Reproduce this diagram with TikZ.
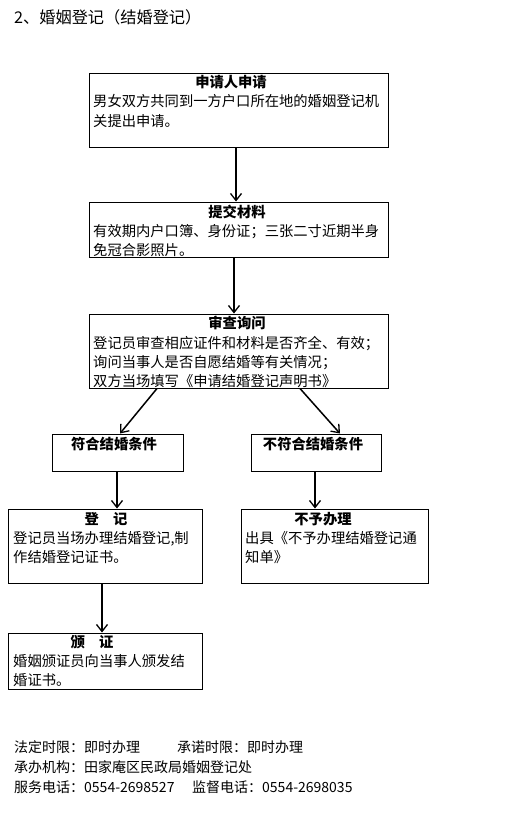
\documentclass[tikz,border=0pt]{standalone}
\usepackage{fontspec}
\setmainfont{Noto Sans CJK SC}
\usetikzlibrary{arrows.meta}
\tikzset{
  box/.style={draw=black, line width=1pt, inner sep=0pt, rectangle},
  ttl/.style={font=\fontsize{14.3}{16}\selectfont\bfseries, inner sep=0pt, anchor=center},
  txt/.style={font=\fontsize{14.3}{16}\selectfont, inner sep=0pt, anchor=base west},
  ftxt/.style={font=\fontsize{14}{16}\selectfont, inner sep=0pt, anchor=base west},
  arr/.style={line width=1.5pt, -{Straight Barb[length=7pt,width=11pt,line width=1.3pt]}},
}
\begin{document}
\begin{tikzpicture}[x=1pt,y=-1pt]
\useasboundingbox (0,0) rectangle (509,814);
% header
\node[font=\fontsize{16.2}{18}\selectfont, inner sep=0pt, anchor=west] (hdr) at (14,17) {2、婚姻登记（结婚登记）};
% boxes
\node[box, minimum width=299, minimum height=74] (b1) at (238.5,110) {};
\node[box, minimum width=299, minimum height=55] (b2) at (238.5,229.5) {};
\node[box, minimum width=299, minimum height=74] (b3) at (238.5,351) {};
\node[box, minimum width=131, minimum height=37] (b4) at (117.5,452.5) {};
\node[box, minimum width=130, minimum height=37] (b5) at (316,452.5) {};
\node[box, minimum width=194, minimum height=74] (b6) at (105,546) {};
\node[box, minimum width=187, minimum height=74] (b7) at (334.5,546) {};
\node[box, minimum width=194, minimum height=56] (b8) at (105,661) {};
% box 1
\node[ttl] (t1) at (231,82) {申请人申请};
\node[txt] (l11) at (93,106.3) {男女双方共同到一方户口所在地的婚姻登记机};
\node[txt] (l12) at (93,126.3) {关提出申请。};
% box 2
\node[ttl] (t2) at (237,212) {提交材料};
\node[txt] (l21) at (93,236.3) {有效期内户口簿、身份证；三张二寸近期半身};
\node[txt] (l22) at (93,255.3) {免冠合影照片。};
% box 3
\node[ttl] (t3) at (237,323) {审查询问};
\node[txt] (l31) at (93,348.3) {登记员审查相应证件和材料是否齐全、有效；};
\node[txt] (l32) at (93,367.3) {询问当事人是否自愿结婚等有关情况；};
\node[txt] (l33) at (93,386.3) {双方当场填写《申请结婚登记声明书》};
% box 4,5
\node[ttl] (t4) at (114,444) {符合结婚条件};
\node[ttl] (t5) at (313,444) {不符合结婚条件};
% box 6
\node[ttl] (t6) at (106,519) {登\hspace{14pt}记};
\node[txt] (l61) at (13,543.3) {登记员当场办理结婚登记,制};
\node[txt] (l62) at (13,562.3) {作结婚登记证书。};
% box 7
\node[ttl] (t7) at (323,519) {不予办理};
\node[txt] (l71) at (245,543.3) {出具《不予办理结婚登记通};
\node[txt] (l72) at (245,562.3) {知单》};
% box 8
\node[ttl] (t8) at (92,642) {颁\hspace{14pt}证};
\node[txt] (l81) at (13,666.3) {婚姻颁证员向当事人颁发结};
\node[txt] (l82) at (13,685.3) {婚证书。};
% footer
\node[ftxt] (f1) at (14,752.3) {法定时限：即时办理};
\node[ftxt] (f2) at (177,752.3) {承诺时限：即时办理};
\node[ftxt] (f3) at (14,772.3) {承办机构：田家庵区民政局婚姻登记处};
\node[ftxt] (f4) at (14,792.3) {服务电话：0554-2698527};
\node[ftxt] (f5) at (192,792.3) {监督电话：0554-2698035};
% arrow x positions
\coordinate (x1) at (236,0);
\coordinate (x2) at (234,0);
\coordinate (x3a) at (157,0);
\coordinate (x3b) at (120,0);
\coordinate (x4a) at (300,0);
\coordinate (x4b) at (340,0);
\coordinate (x5) at (117,0);
\coordinate (x6) at (315,0);
\coordinate (x7) at (102,0);
% arrows
\draw[arr] (b1.south -| x1) -- (b2.north -| x1);
\draw[arr] (b2.south -| x2) -- (b3.north -| x2);
\draw[arr] (b3.south -| x3a) -- (b4.north -| x3b);
\draw[arr] (b3.south -| x4a) -- (b5.north -| x4b);
\draw[arr] (b4.south -| x5) -- (b6.north -| x5);
\draw[arr] (b5.south -| x6) -- (b7.north -| x6);
\draw[arr] (b6.south -| x7) -- (b8.north -| x7);
\end{tikzpicture}
\end{document}
